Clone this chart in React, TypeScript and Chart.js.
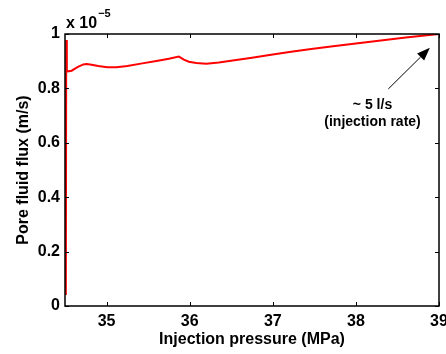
import React, { useEffect, useRef } from "react";
import { Chart, registerables } from "chart.js";

Chart.register(...registerables);

// Injection pressure (MPa)
const pressure: number[] = [
  34.51, 34.515, 34.522, 34.58, 34.65, 34.72, 34.76, 34.82, 34.9, 35.01,
  35.12, 35.25, 35.43, 35.6, 35.75, 35.87, 35.93, 35.99, 36.08, 36.2,
  36.35, 36.56, 36.75, 36.96, 37.2, 37.44, 37.7, 38.0, 38.3, 38.6, 39.0,
];
// Pore fluid flux (x 1e-5 m/s)
const flux: number[] = [
  0.04, 0.978, 0.862, 0.865, 0.878, 0.888, 0.89, 0.887, 0.882, 0.878,
  0.878, 0.882, 0.892, 0.901, 0.909, 0.917, 0.906, 0.898, 0.893, 0.891,
  0.895, 0.904, 0.913, 0.923, 0.934, 0.944, 0.954, 0.965, 0.976, 0.987, 1.0,
];
const xTicks: number[] = [35, 36, 37, 38, 39];
const yTicks: number[] = [0, 0.2, 0.4, 0.6, 0.8, 1];
const xTitle = "Injection pressure (MPa)";
const yTitle = "Pore fluid flux (m/s)";
const annotationLines: string[] = ["~ 5 l/s", "(injection rate)"];

const FONT = "'Liberation Sans', Arial, Helvetica, sans-serif";

const framePlugin = {
  id: "frame",
  afterDraw(chart: any) {
    const { ctx, chartArea } = chart;
    const { left, right, top, bottom } = chartArea;
    const xs = chart.scales.x;
    const ys = chart.scales.y;
    ctx.save();
    ctx.strokeStyle = "#000";
    ctx.lineWidth = 1.5;
    ctx.strokeRect(left, top, right - left, bottom - top);
    ctx.lineWidth = 1;
    const tl = 4;
    ctx.beginPath();
    xTicks.forEach((v) => {
      const px = Math.round(xs.getPixelForValue(v)) + 0.5;
      ctx.moveTo(px, bottom);
      ctx.lineTo(px, bottom - tl);
      ctx.moveTo(px, top);
      ctx.lineTo(px, top + tl);
    });
    yTicks.forEach((v) => {
      const py = Math.round(ys.getPixelForValue(v)) + 0.5;
      ctx.moveTo(left, py);
      ctx.lineTo(left + tl, py);
      ctx.moveTo(right, py);
      ctx.lineTo(right - tl, py);
    });
    ctx.stroke();

    // exponent label
    ctx.fillStyle = "#000";
    ctx.font = `bold 16px ${FONT}`;
    ctx.textBaseline = "alphabetic";
    ctx.textAlign = "left";
    ctx.fillText("x 10", left + 1, top - 6);
    const w = ctx.measureText("x 10").width;
    ctx.font = `bold 11px ${FONT}`;
    ctx.fillText("\u22125", left + 2 + w, top - 17);

    // annotation arrow
    const tailX = xs.getPixelForValue(38.39);
    const tailY = ys.getPixelForValue(0.798);
    const tipX = xs.getPixelForValue(38.89);
    const tipY = ys.getPixelForValue(0.949);
    const ang = Math.atan2(tipY - tailY, tipX - tailX);
    const hl = 13;
    const hw = 5;
    const bx = tipX - hl * Math.cos(ang);
    const by = tipY - hl * Math.sin(ang);
    ctx.beginPath();
    ctx.lineWidth = 1;
    ctx.moveTo(tailX, tailY);
    ctx.lineTo(bx, by);
    ctx.stroke();
    ctx.beginPath();
    ctx.moveTo(tipX, tipY);
    ctx.lineTo(bx + hw * Math.sin(ang), by - hw * Math.cos(ang));
    ctx.lineTo(bx - hw * Math.sin(ang), by + hw * Math.cos(ang));
    ctx.closePath();
    ctx.fill();

    ctx.font = `bold 14px ${FONT}`;
    ctx.textAlign = "center";
    ctx.textBaseline = "middle";
    const tx = xs.getPixelForValue(38.2);
    ctx.fillText(annotationLines[0], tx, ys.getPixelForValue(0.739));
    ctx.fillText(annotationLines[1], tx, ys.getPixelForValue(0.676));
    ctx.restore();
  },
};

export default function App() {
  const ref = useRef<HTMLCanvasElement>(null);
  useEffect(() => {
    document.body.style.margin = "0";
    const canvas = ref.current;
    if (!canvas) return;
    const points = pressure.map((p, i) => ({ x: p, y: flux[i] }));
    const chart = new Chart(canvas, {
      type: "line",
      data: {
        datasets: [
          {
            data: points,
            borderColor: "#ff0000",
            borderWidth: 2,
            pointRadius: 0,
            tension: 0,
            fill: false,
          },
        ],
      },
      options: {
        animation: false,
        responsive: false,
        devicePixelRatio: 1,
        layout: { padding: { top: 34, right: 7, left: 0, bottom: 0 } },
        plugins: { legend: { display: false }, tooltip: { enabled: false } },
        scales: {
          x: {
            type: "linear",
            min: 34.5,
            max: 39,
            afterFit: (s: any) => {
              s.height = 48;
              s.paddingLeft = 0;
              s.paddingRight = 0;
            },
            afterBuildTicks: (s: any) => {
              s.ticks = xTicks.map((v) => ({ value: v }));
            },
            grid: { display: false, drawTicks: false },
            border: { display: false },
            ticks: {
              padding: 6,
              color: "#000",
              font: { family: FONT, size: 16, weight: "bold" },
              callback: (v: any) => String(v),
              maxRotation: 0,
            },
            title: {
              display: true,
              text: xTitle,
              color: "#000",
              font: { family: FONT, size: 16, weight: "bold" },
              padding: { top: 5, bottom: 5 },
            },
          },
          y: {
            type: "linear",
            min: 0,
            max: 1,
            afterFit: (s: any) => {
              s.width = 65;
              s.paddingTop = 0;
              s.paddingBottom = 0;
            },
            afterBuildTicks: (s: any) => {
              s.ticks = yTicks.map((v) => ({ value: v }));
            },
            grid: { display: false, drawTicks: false },
            border: { display: false },
            ticks: {
              padding: 5,
              color: "#000",
              font: { family: FONT, size: 16, weight: "bold" },
              callback: (v: any) => String(Math.round(v * 10) / 10),
            },
            title: {
              display: true,
              text: yTitle,
              color: "#000",
              font: { family: FONT, size: 16, weight: "bold" },
              padding: { top: 14, bottom: 14 },
            },
          },
        },
      },
      plugins: [framePlugin],
    });
    return () => chart.destroy();
  }, []);
  return <canvas ref={ref} width={446} height={354} style={{ display: "block" }} />;
}
